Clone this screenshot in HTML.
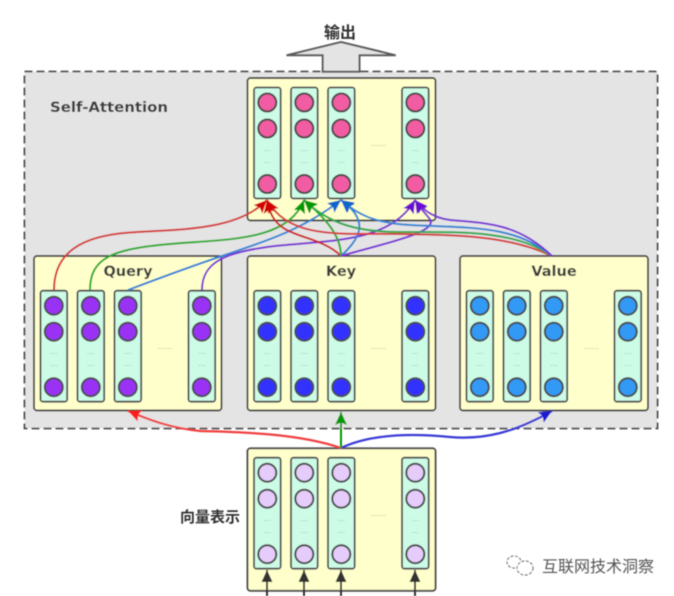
<!DOCTYPE html>
<html><head><meta charset="utf-8">
<style>html,body{margin:0;padding:0;background:#fff}svg{display:block}
text{font-family:"DejaVu Sans","Liberation Sans","Noto Sans CJK SC",sans-serif}
.cjk{font-family:"Liberation Sans","Noto Sans CJK SC",sans-serif}</style></head>
<body>
<svg width="674" height="596" viewBox="0 0 674 596" xmlns="http://www.w3.org/2000/svg">
<defs>
<filter id="b" x="-2%" y="-2%" width="104%" height="104%"><feGaussianBlur stdDeviation="0.45"/></filter>
<g id="col">
<rect x="0" y="0" width="26.7" height="111" rx="2.5" fill="#ccfbe6" stroke="#4a4a4a" stroke-width="1.8"/>
<g fill="currentColor" stroke="#4a4a4a" stroke-width="2">
<circle cx="13.3" cy="15" r="9"/><circle cx="13.3" cy="41" r="9"/><circle cx="13.3" cy="96.5" r="9"/>
</g>
<text x="13.3" y="66" font-size="8" text-anchor="middle" fill="#8fb8ae">···</text>
<text x="13.3" y="78" font-size="8" text-anchor="middle" fill="#8fb8ae">···</text>
</g>
<g id="cols">
<use href="#col" x="6.5"/><use href="#col" x="43.5"/><use href="#col" x="80.5"/><use href="#col" x="154.5"/>
<text x="131" y="61" font-size="8" text-anchor="middle" fill="#a5a585">······</text>
</g>
<marker id="mr" markerUnits="userSpaceOnUse" markerWidth="16" markerHeight="14" refX="13" refY="6" orient="auto"><path d="M0 0L13 6L0 12L2.5 6z" fill="#d40000"/></marker>
<marker id="mg" markerUnits="userSpaceOnUse" markerWidth="16" markerHeight="14" refX="13" refY="6" orient="auto"><path d="M0 0L13 6L0 12L2.5 6z" fill="#009900"/></marker>
<marker id="mb" markerUnits="userSpaceOnUse" markerWidth="16" markerHeight="14" refX="13" refY="6" orient="auto"><path d="M0 0L13 6L0 12L2.5 6z" fill="#0a66cc"/></marker>
<marker id="mp" markerUnits="userSpaceOnUse" markerWidth="16" markerHeight="14" refX="13" refY="6" orient="auto"><path d="M0 0L13 6L0 12L2.5 6z" fill="#6a0fd0"/></marker>
<marker id="mR" markerUnits="userSpaceOnUse" markerWidth="16" markerHeight="14" refX="13" refY="6" orient="auto"><path d="M0 0L13 6L0 12L2.5 6z" fill="#ff1a1a"/></marker>
<marker id="mB" markerUnits="userSpaceOnUse" markerWidth="16" markerHeight="14" refX="13" refY="6" orient="auto"><path d="M0 0L13 6L0 12L2.5 6z" fill="#1a1ad0"/></marker>
<marker id="mk" markerUnits="userSpaceOnUse" markerWidth="16" markerHeight="14" refX="12" refY="6" orient="auto"><path d="M0 0.5L12 6L0 11.5z" fill="#333"/></marker>
</defs>
<g filter="url(#b)">
<rect x="24.5" y="71.5" width="633" height="357" fill="#e4e4e4" stroke="#4a4a4a" stroke-width="1.8" stroke-dasharray="8 4"/>
<polygon points="286.5,55.3 341,42 395.7,55.3 359.5,55.3 359.5,71.7 322.7,71.7 322.7,55.3" fill="#e4e4e4" stroke="#5a5a5a" stroke-width="2"/>
<text class="cjk" x="340" y="38" font-size="16" font-weight="bold" text-anchor="middle" fill="#333">输出</text>
<text x="50" y="112" font-size="14.5" font-weight="bold" fill="#3a3a3a" textLength="118" lengthAdjust="spacingAndGlyphs">Self-Attention</text>

<g stroke="#4a4a4a" stroke-width="1.9" fill="#ffffcc">
<rect x="247.5" y="78" width="188" height="142.5" rx="3"/>
<rect x="34" y="256" width="187.5" height="154.5" rx="3"/>
<rect x="247.5" y="256" width="188" height="154.5" rx="3"/>
<rect x="460" y="256" width="188" height="154.5" rx="3"/>
<rect x="247.5" y="448.3" width="188" height="142.5" rx="3"/>
</g>

<use href="#cols" x="247.5" y="87.5" color="#f25ca2"/>
<use href="#cols" x="34" y="290.7" color="#9933f5"/>
<use href="#cols" x="247.5" y="290.7" color="#3333ff"/>
<use href="#cols" x="460" y="290.7" color="#3399f5"/>
<use href="#cols" x="247.5" y="457.7" color="#e5ccfa"/>

<text x="128" y="276" font-size="14.5" font-weight="bold" text-anchor="middle" fill="#3a3a3a">Query</text>
<text x="341" y="276" font-size="14.5" font-weight="bold" text-anchor="middle" fill="#3a3a3a">Key</text>
<text x="554" y="276" font-size="14.5" font-weight="bold" text-anchor="middle" fill="#3a3a3a">Value</text>
<text class="cjk" x="210" y="522" font-size="15" font-weight="bold" text-anchor="middle" fill="#333">向量表示</text>

<g fill="none" stroke-width="2">
<path d="M54 290C54 252 82 236 130 232.5C175 229 236 232 267 200" stroke="#d63a3a" marker-end="url(#mr)"/>
<path d="M90 290C90 258 112 249 170 244C225 239 288 242 304 200" stroke="#22aa22" marker-end="url(#mg)"/>
<path d="M128 290C165 276 195 265 225 255C270 240 305 228 341 200" stroke="#2f85d5" marker-end="url(#mb)"/>
<path d="M202 290C202 262 225 252 275 246C330 240 390 243 415 200" stroke="#7a30d5" marker-end="url(#mp)"/>

<path d="M341 256C325 240 300 238 285 229C275 223 270 215 267 200" stroke="#cc1f1f" marker-end="url(#mr)"/>
<path d="M341 256C341 235 325 218 304 200" stroke="#22aa22" marker-end="url(#mg)"/>
<path d="M341 256C358 240 372 222 341 200" stroke="#2f85d5" marker-end="url(#mb)"/>
<path d="M341 256C385 243 442 232 429 218C424 212 420 208 415 200" stroke="#7a30d5" marker-end="url(#mp)"/>

<path d="M552 256C510 236 460 235 400 234C340 233 290 240 267 200" stroke="#d63a3a" marker-end="url(#mr)"/>
<path d="M552 256C515 230 460 232 400 232C360 232 330 225 304 200" stroke="#2aa84a" marker-end="url(#mg)"/>
<path d="M552 256C515 225 470 228 410 225C375 223 358 215 341 200" stroke="#2f85d5" marker-end="url(#mb)"/>
<path d="M552 256C520 225 490 223 450 220C435 218 425 212 415 200" stroke="#7a30d5" marker-end="url(#mp)"/>

<path d="M341 448C300 434 245 432 200 431C170 428 150 420 128 411" stroke="#f04040" stroke-width="2.2" marker-end="url(#mR)"/>
<path d="M341 448C375 432 420 434 450 437C485 440 515 432 552 411" stroke="#3a3ad5" stroke-width="2.2" marker-end="url(#mB)"/>
<path d="M341 448V412" stroke="#009900" marker-end="url(#mg)"/>
<path d="M267 596V570" stroke="#333" marker-end="url(#mk)"/>
<path d="M304 596V570" stroke="#333" marker-end="url(#mk)"/>
<path d="M341 596V570" stroke="#333" marker-end="url(#mk)"/>
<path d="M415 596V570" stroke="#333" marker-end="url(#mk)"/>
</g>

<g fill="#fff" stroke="#555" stroke-width="1" stroke-dasharray="3 1.5">
<ellipse cx="514" cy="562" rx="7" ry="6"/>
<ellipse cx="525" cy="568" rx="8" ry="7"/>
</g>
<text class="cjk" x="542" y="572" font-size="16" fill="#555">互联网技术洞察</text>
</g>
</svg>
</body></html>
